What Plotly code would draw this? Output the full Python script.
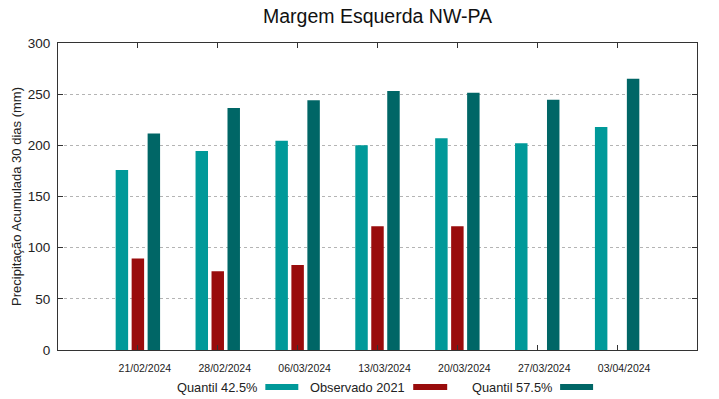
import plotly.graph_objects as go

dates = ["21/02/2024", "28/02/2024", "06/03/2024", "13/03/2024", "20/03/2024", "27/03/2024", "03/04/2024"]
q425 = [176, 194.5, 204.5, 200, 207, 202, 218]
obs2021 = [89.5, 77, 83, 121, 121, None, None]
q575 = [211.5, 236.5, 244, 253, 251.5, 244.5, 265]

series_names = ["Quantil 42.5%", "Observado 2021", "Quantil 57.5%"]
colors = ["#009999", "#990c0c", "#006666"]

x = list(range(len(dates)))
fig = go.Figure()
for name, vals, c in zip(series_names, [q425, obs2021, q575], colors):
    fig.add_trace(go.Bar(x=x, y=vals, name=name, marker=dict(color=c, line=dict(width=0)),
                         showlegend=False))

font = "Liberation Sans, Arial, sans-serif"
fig.update_layout(
    width=719, height=399,
    margin=dict(l=57.5, r=22, t=43, b=49),
    paper_bgcolor="white", plot_bgcolor="white",
    barmode="group", bargap=0.4, bargroupgap=0.22,
    font=dict(family=font, color="#222"),
    title=dict(text="Margem Esquerda NW-PA", x=0.5, xref="paper", y=0.96, yanchor="middle",
               font=dict(size=19.5, color="#111", family=font)),
)
fig.update_xaxes(
    range=[-1, 7], tickvals=x, ticktext=dates, ticks="inside", ticklen=5, tickcolor="#333",
    showline=True, linecolor="#333", linewidth=1, mirror="allticks", showgrid=False,
    tickfont=dict(size=10.5, color="#222"), ticklabelshift=7, ticklabelstandoff=8, zeroline=False,
)
fig.update_yaxes(
    range=[0, 300], tickvals=[0, 50, 100, 150, 200, 250, 300], ticks="inside", ticklen=5,
    tickcolor="#333", showline=True, linecolor="#333", linewidth=1, mirror="allticks",
    showgrid=True, gridcolor="#b4b4b4", griddash="dot", gridwidth=1, zeroline=False,
    tickfont=dict(size=13.5, color="#222"), ticklabelstandoff=4,
    title=dict(text="Precipitação Acumulada 30 dias (mm)", font=dict(size=13, color="#222"), standoff=3),
)

# custom legend (gnuplot style: text followed by swatch)
legend_items = [(259, 265, 298), (407, 413, 447), (554, 560, 593)]
for (tx, s0, s1), name, c in zip(legend_items, series_names, colors):
    fig.add_annotation(text=name, xref="paper", yref="paper",
                       x=(tx - 57.5) / (719 - 57.5 - 22), y=(350 - 387) / 307,
                       xanchor="right", yanchor="middle", showarrow=False,
                       font=dict(size=12.8, color="#222", family=font))
    fig.add_shape(type="rect", xref="paper", yref="paper",
                  x0=(s0 - 57.5) / 639.5, x1=(s1 - 57.5) / 639.5,
                  y0=(350 - 384) / 307, y1=(350 - 390) / 307,
                  fillcolor=c, line=dict(width=0))

fig.write_html("out.html", config={"displayModeBar": False},
               post_script="document.body.style.margin='0';")
